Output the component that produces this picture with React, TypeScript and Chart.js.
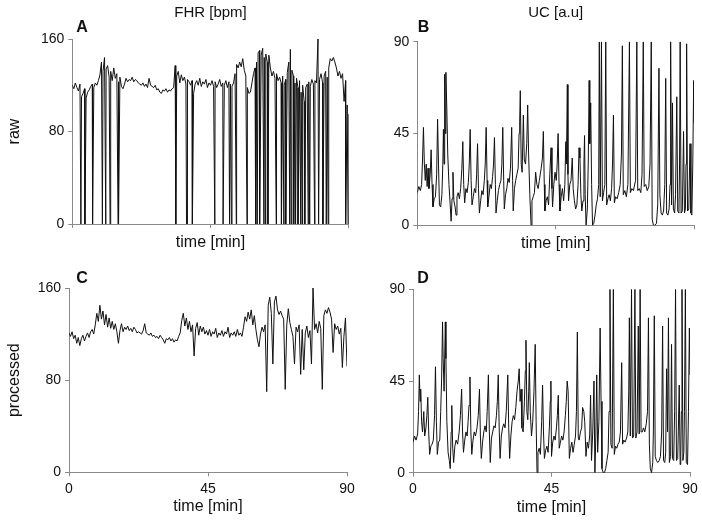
import React, { useEffect, useRef } from "react";
import { Chart, registerables } from "chart.js";
Chart.register(...registerables);

// ---------- tick labels ----------
const timeTicks = [0, 45, 90];
const fhrTicks = [0, 80, 160];
const ucTicks = [0, 45, 90];

// ---------- FHR (bpm), one value every 0.5 min ----------
const fhrStep = 0.5;

const fhrRaw = [
  120, 117, 122, 118, 115, 121, 110, 113, 117, 109, 114, 116, 119, 121, 118, 122, 120, 124, 129, 140,
  132, 144, 134, 137, 127, 132, 124, 135, 126, 130, 123, 127, 119, 117, 121, 126, 123, 125, 124, 127,
  123, 125, 124, 122, 121, 120, 122, 119, 121, 118, 126, 120, 119, 118, 120, 116, 117, 114, 113, 116,
  115, 117, 114, 116, 115, 117, 118, 137, 128, 132, 122, 129, 124, 127, 121, 125, 123, 120, 124, 113,
  121, 124, 120, 126, 119, 123, 121, 125, 118, 122, 120, 124, 119, 123, 118, 121, 125, 119, 122, 120,
  124, 118, 123, 121, 119, 122, 130, 138, 135, 140, 136, 143, 133, 128, 118, 113, 114, 122, 130, 135,
  140, 148, 150, 146, 152, 144, 147, 140, 146, 135, 128, 132, 126, 130, 124, 127, 122, 128, 120, 125,
  131, 140, 151, 133, 128, 122, 126, 118, 124, 114, 120, 106, 118, 121, 123, 119, 125, 121, 124, 122,
  160, 125, 130, 122, 128, 132, 127, 135, 143, 141, 144, 140, 135, 128, 132, 126, 130, 106, 124, 103,
  95, 90,
];

// times (min) where the raw FHR signal drops out to 0
const fhrRawDropouts = [
  2.8, 4.1, 6.6, 9.8, 10.9, 12.3, 14.9, 15.1, 33.7, 37.2, 37.4, 39.1, 46.4, 49.1, 51.2, 51.8,
  53.4, 56.9, 59.7, 60.2, 61.0, 62.4, 62.9, 63.7, 66.4, 68.1, 68.9, 69.5, 70.8, 71.3, 72.1, 72.7,
  73.5, 74.4, 74.9, 75.7, 76.8, 77.3, 78.9, 80.2, 81.6, 82.7, 83.3, 89.0, 89.8,
];

const fhrProcessed = [
  121, 118, 122, 116, 119, 112, 117, 110, 116, 119, 114, 118, 121, 117, 122, 124, 120, 128, 138, 131,
  145, 133, 140, 128, 137, 126, 134, 125, 131, 124, 129, 122, 112, 123, 129, 122, 126, 124, 127, 123,
  125, 122, 126, 124, 121, 122, 121, 120, 123, 129, 121, 120, 119, 121, 118, 119, 117, 118, 116, 119,
  117, 115, 112, 116, 115, 117, 114, 116, 113, 115, 114, 118, 121, 132, 138, 127, 134, 124, 131, 122,
  128, 101, 125, 130, 119, 127, 122, 126, 120, 123, 119, 124, 118, 122, 120, 125, 117, 121, 119, 123,
  118, 122, 120, 126, 117, 121, 119, 122, 118, 124, 119, 121, 118, 126, 135, 131, 139, 133, 141, 128,
  136, 124, 115, 109, 120, 126, 122, 128, 70, 145, 152, 138, 94, 148, 153, 141, 137, 140, 136, 133,
  72, 128, 142, 130, 124, 118, 94, 126, 122, 128, 85, 124, 89, 121, 127, 117, 123, 94, 160, 124,
  129, 121, 131, 125, 72, 136, 141, 138, 143, 139, 133, 104, 129, 124, 127, 120, 125, 91, 118, 134,
  92,
];

// ---------- UC (a.u.), [time min, value] ----------
const ucRaw: [number, number][] = [
  [0, 16], [0.5, 19], [1, 17], [1.4, 20], [1.7, 32], [2.0, 48], [2.3, 30], [2.6, 22], [2.9, 30], [3.2, 19],
  [3.5, 28], [3.8, 18], [4.2, 25], [4.5, 37], [4.8, 20], [5.1, 9], [5.5, 13], [5.9, 14], [6.3, 25], [6.6, 52],
  [6.9, 30], [7.2, 10], [7.6, 9], [8.0, 15], [8.3, 30], [8.5, 47], [8.7, 30], [8.9, 74], [9.1, 45], [9.3, 75],
  [9.6, 57], [9.9, 35], [10.3, 20], [10.7, 10], [11.0, 2], [11.3, 13], [11.6, 26], [11.9, 12], [12.3, 9], [12.6, 5],
  [12.9, 14], [13.3, 16], [13.7, 13], [14.1, 18], [14.5, 28], [14.8, 41], [15.1, 20], [15.4, 11], [15.8, 18], [16.2, 16],
  [16.6, 21], [16.9, 30], [17.2, 47], [17.5, 22], [17.8, 10], [18.2, 14], [18.6, 18], [19.0, 16], [19.3, 25], [19.6, 40],
  [19.9, 18], [20.2, 6], [20.6, 12], [21.0, 17], [21.4, 15], [21.8, 22], [22.1, 30], [22.4, 48], [22.7, 22], [22.9, 9],
  [23.3, 14], [23.7, 20], [24.1, 18], [24.5, 24], [24.8, 30], [25.1, 43], [25.4, 20], [25.6, 6], [26.0, 12], [26.4, 17],
  [26.8, 20], [27.2, 22], [27.5, 30], [27.8, 48], [28.1, 22], [28.3, 8], [28.7, 15], [29.1, 18], [29.5, 23], [29.9, 21],
  [30.3, 28], [30.7, 48], [31.0, 22], [31.2, 7], [31.6, 18], [32.0, 22], [32.4, 25], [32.8, 28], [33.1, 45], [33.3, 51],
  [33.5, 66], [33.8, 30], [34.1, 26], [34.5, 54], [34.8, 32], [35.2, 30], [35.6, 40], [35.9, 59], [36.2, 35], [36.6, 15],
  [37.0, 0], [37.3, 12], [37.7, 14], [38.1, 16], [38.5, 26], [38.9, 20], [39.3, 18], [39.7, 22], [40.3, 28], [40.7, 33],
  [41.0, 46], [41.3, 20], [41.5, 7], [41.9, 12], [42.3, 14], [42.7, 10], [43.1, 25], [43.5, 38], [43.8, 18], [44.0, 9],
  [44.4, 20], [44.8, 26], [45.2, 22], [45.5, 30], [45.8, 45], [46.1, 20], [46.4, 7], [46.8, 14], [47.2, 18], [47.6, 12],
  [48.0, 20], [48.3, 41], [48.5, 30], [48.8, 69], [49.0, 25], [49.2, 12], [49.6, 20], [50.0, 22], [50.4, 33], [50.7, 18],
  [51.1, 12], [51.5, 8], [51.9, 10], [52.3, 20], [52.6, 38], [52.9, 33], [53.2, 15], [53.5, 7], [53.9, 12], [54.2, 30],
  [54.4, 44], [54.6, 15], [54.9, 0], [55.3, 8], [55.6, 30], [55.9, 71], [56.1, 40], [56.4, 60], [56.7, 20], [57.0, 0],
  [57.4, 1], [57.8, 5], [58.2, 10], [58.6, 13], [59.0, 20], [59.2, 90], [59.5, 14], [59.9, 90], [60.2, 12], [60.6, 16],
  [61.0, 20], [61.3, 90], [61.6, 10], [62.0, 13], [62.4, 15], [62.8, 12], [63.2, 18], [63.5, 30], [63.8, 54], [64.1, 11],
  [64.5, 14], [65.0, 13], [65.5, 16], [66.0, 20], [66.4, 35], [66.7, 88], [67.0, 15], [67.5, 17], [68.0, 14], [68.5, 20],
  [69.0, 90], [69.3, 16], [69.8, 18], [70.3, 17], [71.0, 22], [71.4, 90], [71.7, 17], [72.2, 18], [72.7, 16], [73.1, 25],
  [73.5, 90], [73.8, 19], [74.3, 20], [74.8, 17], [75.3, 19], [75.7, 30], [76.1, 90], [76.4, 3], [76.8, 0], [77.3, 0],
  [77.8, 1], [78.2, 10], [78.6, 77], [78.9, 15], [79.3, 6], [79.7, 5], [80.1, 7], [80.5, 20], [80.8, 72], [81.1, 6],
  [81.5, 5], [81.9, 8], [82.2, 20], [82.4, 90], [82.7, 10], [83.0, 60], [83.3, 8], [83.7, 6], [84.0, 15], [84.4, 63],
  [84.7, 7], [85.1, 6], [85.3, 30], [85.5, 90], [85.8, 6], [86.2, 7], [86.6, 46], [86.9, 6], [87.2, 8], [87.4, 30],
  [87.6, 89], [87.9, 7], [88.3, 8], [88.7, 40], [89.0, 6], [89.3, 5], [89.6, 30], [89.9, 71], [90, 50],
];

const ucProcessed: [number, number][] = [
  [0, 15], [0.5, 18], [1, 16], [1.5, 19], [1.8, 30], [2.06, 48], [2.3, 35], [2.5, 41], [2.8, 25], [3.1, 20],
  [3.5, 30], [3.8, 18], [4.2, 22], [4.5, 28], [4.8, 37], [5.1, 20], [5.4, 9], [5.8, 13], [6.2, 14], [6.6, 16],
  [7.0, 28], [7.3, 52], [7.6, 25], [7.9, 9], [8.3, 15], [8.7, 16], [9.0, 30], [9.3, 46], [9.6, 74], [9.8, 56],
  [10.1, 40], [10.5, 74], [10.7, 56], [11.0, 25], [11.4, 10], [11.8, 6], [12.1, 2], [12.4, 20], [12.6, 33], [12.9, 12],
  [13.2, 5], [13.6, 13], [14.0, 16], [14.5, 14], [15.0, 20], [15.4, 28], [15.8, 41], [16.1, 20], [16.4, 10], [16.8, 16],
  [17.2, 20], [17.6, 18], [17.9, 25], [18.2, 33], [18.5, 47], [18.8, 20], [19.1, 9], [19.5, 16], [19.9, 20], [20.3, 18],
  [20.8, 22], [21.2, 28], [21.6, 41], [21.9, 18], [22.2, 7], [22.6, 15], [23.0, 20], [23.4, 23], [23.8, 20], [24.1, 30],
  [24.5, 48], [24.8, 20], [25.1, 5], [25.5, 17], [25.9, 20], [26.3, 23], [26.7, 22], [27.1, 28], [27.4, 35], [27.7, 48],
  [28.0, 22], [28.3, 7], [28.7, 18], [29.1, 22], [29.5, 24], [29.9, 22], [30.3, 30], [30.8, 48], [31.1, 22], [31.4, 7],
  [31.8, 18], [32.2, 25], [32.6, 28], [33.0, 26], [33.4, 32], [33.8, 40], [34.2, 45], [34.5, 51], [34.8, 35], [35.1, 41],
  [35.4, 22], [35.8, 20], [36.2, 35], [36.5, 50], [36.7, 65], [37.0, 30], [37.3, 26], [37.6, 40], [37.8, 54], [38.1, 30],
  [38.5, 18], [38.9, 25], [39.3, 40], [39.7, 63], [40.0, 25], [40.3, 0], [40.6, 10], [41.0, 12], [41.4, 9], [41.8, 25],
  [42.1, 43], [42.4, 20], [42.7, 7], [43.1, 11], [43.5, 13], [43.9, 10], [44.3, 22], [44.6, 35], [44.8, 45], [45.0, 8],
  [45.4, 15], [45.8, 18], [46.2, 16], [46.6, 22], [46.9, 28], [47.2, 38], [47.5, 12], [47.9, 15], [48.3, 18], [48.7, 16],
  [49.1, 20], [49.5, 28], [49.8, 35], [50.1, 45], [50.4, 40], [50.8, 7], [51.2, 12], [51.6, 15], [52.0, 10], [52.4, 14],
  [52.8, 18], [53.1, 30], [53.4, 69], [53.7, 17], [54.0, 16], [54.4, 20], [54.8, 22], [55.1, 32], [55.5, 30], [55.8, 25],
  [56.2, 8], [56.6, 15], [57.0, 12], [57.4, 18], [57.7, 38], [58.0, 6], [58.4, 20], [58.8, 45], [59.1, 0], [59.4, 18],
  [59.7, 48], [60.0, 10], [60.4, 25], [60.8, 71], [61.1, 35], [61.4, 2], [61.8, 0], [62.2, 0], [62.6, 2], [63.0, 6],
  [63.4, 10], [63.7, 30], [64.0, 90], [64.3, 14], [64.7, 12], [65.1, 90], [65.4, 9], [65.8, 13], [66.2, 12], [66.6, 14],
  [67.0, 15], [67.4, 20], [67.8, 54], [68.1, 14], [68.5, 16], [68.9, 15], [69.4, 17], [69.8, 20], [70.1, 40], [70.3, 76],
  [70.6, 18], [71.0, 90], [71.3, 17], [71.7, 18], [72.1, 90], [72.4, 17], [72.8, 20], [73.2, 72], [73.5, 19], [73.8, 90],
  [74.1, 20], [74.5, 20], [74.9, 22], [75.3, 20], [75.8, 24], [76.2, 30], [76.5, 76], [76.8, 14], [77.1, 2], [77.5, 0],
  [77.9, 5], [78.1, 20], [78.4, 77], [78.7, 8], [79.1, 6], [79.5, 5], [80.0, 6], [80.4, 8], [80.8, 20], [81.1, 72],
  [81.4, 6], [81.8, 5], [82.1, 10], [82.4, 51], [82.7, 20], [83.0, 76], [83.3, 5], [83.7, 8], [84.0, 63], [84.3, 7],
  [84.7, 6], [85.0, 30], [85.3, 90], [85.6, 6], [86.0, 7], [86.2, 20], [86.5, 43], [86.8, 4], [87.0, 8], [87.2, 30],
  [87.4, 90], [87.7, 6], [88.0, 10], [88.2, 30], [88.5, 90], [88.8, 5], [89.2, 4], [89.5, 30], [89.8, 71], [90, 48],
];

// ---------- helpers ----------
type Pt = { x: number; y: number };

function stepSeries(values: number[], step: number): Pt[] {
  return values.map((v, i) => ({ x: i * step, y: v }));
}
function withDropouts(values: number[], step: number, drops: number[]): Pt[] {
  const pts = stepSeries(values, step);
  drops.forEach((t) => pts.push({ x: t, y: 0 }));
  pts.sort((a, b) => a.x - b.x);
  return pts;
}
function pairSeries(pairs: [number, number][]): Pt[] {
  return pairs.map(([x, y]) => ({ x, y }));
}

const FONT = '"Liberation Sans", Arial, Helvetica, sans-serif';
const AXIS = "#8a8a8a";
const INK = "#111111";

const panelText = {
  id: "panelText",
  afterDraw(chart: any, _args: any, opts: any) {
    const { ctx, chartArea } = chart;
    ctx.save();
    ctx.fillStyle = INK;
    ctx.textBaseline = "middle";
    ctx.textAlign = "center";
    if (opts.title) {
      ctx.font = `15px ${FONT}`;
      ctx.fillText(opts.title, (chartArea.left + chartArea.right) / 2, opts.titleY);
    }
    ctx.font = `bold 16px ${FONT}`;
    ctx.fillText(opts.letter, opts.letterX, opts.letterY);
    ctx.restore();
  },
};

type PanelCfg = {
  left: number;
  top: number;
  width: number;
  height: number;
  data: Pt[];
  yMax: number;
  yTicks: number[];
  yTitle?: string;
  xLabels: boolean;
  pad: { top: number; right: number };
  yWidth: number;
  xHeight: number;
  xTitlePad: number;
  title?: string;
  titleY: number;
  letter: string;
  letterX: number;
  letterY: number;
};

function Panel({ cfg }: { cfg: PanelCfg }) {
  const ref = useRef<HTMLCanvasElement | null>(null);
  useEffect(() => {
    if (!ref.current) return;
    const chart = new Chart(ref.current, {
      type: "line",
      data: {
        datasets: [
          {
            data: cfg.data as any,
            borderColor: INK,
            borderWidth: 1,
            pointRadius: 0,
            tension: 0,
            fill: false,
          },
        ],
      },
      options: {
        animation: false,
        responsive: false,
        events: [],
        layout: { padding: { left: 0, top: cfg.pad.top, right: cfg.pad.right, bottom: 0 } },
        plugins: {
          legend: { display: false },
          tooltip: { enabled: false },
          panelText: {
            title: cfg.title,
            titleY: cfg.titleY,
            letter: cfg.letter,
            letterX: cfg.letterX,
            letterY: cfg.letterY,
          },
        } as any,
        scales: {
          x: {
            type: "linear",
            min: 0,
            max: 90,
            afterBuildTicks: (s: any) => {
              s.ticks = timeTicks.map((v) => ({ value: v }));
            },
            afterFit: (s: any) => {
              s.height = cfg.xHeight;
            },
            ticks: {
              color: INK,
              padding: 4,
              maxRotation: 0,
              font: { family: FONT, size: 14 },
              callback: (v: any) => (cfg.xLabels ? String(v) : ""),
            },
            grid: { drawOnChartArea: false, drawTicks: true, tickLength: 4, color: AXIS },
            border: { display: true, color: AXIS, width: 1 },
            title: {
              display: true,
              text: "time [min]",
              color: INK,
              font: { family: FONT, size: 16 },
              padding: { top: 0, bottom: cfg.xTitlePad },
            },
          },
          y: {
            type: "linear",
            min: 0,
            max: cfg.yMax,
            afterBuildTicks: (s: any) => {
              s.ticks = cfg.yTicks.map((v) => ({ value: v }));
            },
            afterFit: (s: any) => {
              s.width = cfg.yWidth;
            },
            ticks: {
              color: INK,
              padding: 4,
              font: { family: FONT, size: 14 },
            },
            grid: { drawOnChartArea: false, drawTicks: true, tickLength: 4, color: AXIS },
            border: { display: true, color: AXIS, width: 1 },
            title: {
              display: !!cfg.yTitle,
              text: cfg.yTitle || "",
              color: INK,
              font: { family: FONT, size: 16 },
              padding: { top: 5, bottom: 0 },
            },
          },
        },
      },
      plugins: [panelText as any],
    });
    return () => chart.destroy();
  }, [cfg]);
  return (
    <canvas
      ref={ref}
      width={cfg.width}
      height={cfg.height}
      style={{ position: "absolute", left: cfg.left, top: cfg.top, width: cfg.width, height: cfg.height }}
    />
  );
}

const panels: PanelCfg[] = [
  {
    left: 0, top: 0, width: 360, height: 260,
    data: withDropouts(fhrRaw, fhrStep, fhrRawDropouts),
    yMax: 160, yTicks: fhrTicks, yTitle: "raw", xLabels: false,
    pad: { top: 39, right: 11.3 }, yWidth: 72.3, xHeight: 36, xTitlePad: 8.3,
    title: "FHR [bpm]", titleY: 13, letter: "A", letterX: 82, letterY: 27.5,
  },
  {
    left: 360, top: 0, width: 342, height: 260,
    data: pairSeries(ucRaw),
    yMax: 90, yTicks: ucTicks, xLabels: false,
    pad: { top: 41.7, right: 8 }, yWidth: 57.3, xHeight: 34.7, xTitlePad: 7.3,
    title: "UC [a.u]", titleY: 13, letter: "B", letterX: 63.5, letterY: 27.5,
  },
  {
    left: 0, top: 260, width: 360, height: 262,
    data: stepSeries(fhrProcessed, fhrStep),
    yMax: 160, yTicks: fhrTicks, yTitle: "processed", xLabels: true,
    pad: { top: 28, right: 13 }, yWidth: 69, xHeight: 49.7, xTitlePad: 5.8,
    titleY: 0, letter: "C", letterX: 82, letterY: 18.5,
  },
  {
    left: 360, top: 260, width: 342, height: 262,
    data: pairSeries(ucProcessed),
    yMax: 90, yTicks: ucTicks, xLabels: true,
    pad: { top: 29.3, right: 12 }, yWidth: 53, xHeight: 49.3, xTitlePad: 4.5,
    titleY: 0, letter: "D", letterX: 63, letterY: 18.5,
  },
];

export default function App() {
  return (
    <div style={{ position: "absolute", left: 0, top: 0, width: 702, height: 522, background: "#fff" }}>
      {panels.map((p) => (
        <Panel key={p.letter} cfg={p} />
      ))}
    </div>
  );
}
